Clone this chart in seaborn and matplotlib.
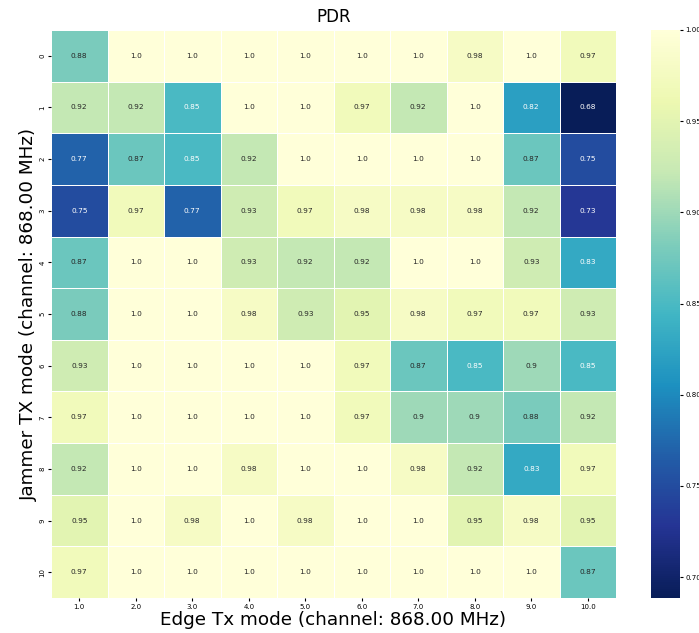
import matplotlib
matplotlib.use('Agg')
import matplotlib.pyplot as plt
import seaborn as sns
import pandas as pd
import numpy as np

edge_modes = [1.0, 2.0, 3.0, 4.0, 5.0, 6.0, 7.0, 8.0, 9.0, 10.0]
jammer_modes = [0, 1, 2, 3, 4, 5, 6, 7, 8, 9, 10]

pdr_0 = [0.88, 1.0, 1.0, 1.0, 1.0, 1.0, 1.0, 0.98, 1.0, 0.97]
pdr_1 = [0.92, 0.92, 0.85, 1.0, 1.0, 0.97, 0.92, 1.0, 0.82, 0.68]
pdr_2 = [0.77, 0.87, 0.85, 0.92, 1.0, 1.0, 1.0, 1.0, 0.87, 0.75]
pdr_3 = [0.75, 0.97, 0.77, 0.93, 0.97, 0.98, 0.98, 0.98, 0.92, 0.73]
pdr_4 = [0.87, 1.0, 1.0, 0.93, 0.92, 0.92, 1.0, 1.0, 0.93, 0.83]
pdr_5 = [0.88, 1.0, 1.0, 0.98, 0.93, 0.95, 0.98, 0.97, 0.97, 0.93]
pdr_6 = [0.93, 1.0, 1.0, 1.0, 1.0, 0.97, 0.87, 0.85, 0.9, 0.85]
pdr_7 = [0.97, 1.0, 1.0, 1.0, 1.0, 0.97, 0.9, 0.9, 0.88, 0.92]
pdr_8 = [0.92, 1.0, 1.0, 0.98, 1.0, 1.0, 0.98, 0.92, 0.83, 0.97]
pdr_9 = [0.95, 1.0, 0.98, 1.0, 0.98, 1.0, 1.0, 0.95, 0.98, 0.95]
pdr_10 = [0.97, 1.0, 1.0, 1.0, 1.0, 1.0, 1.0, 1.0, 1.0, 0.87]

rows = [pdr_0, pdr_1, pdr_2, pdr_3, pdr_4, pdr_5, pdr_6, pdr_7, pdr_8, pdr_9, pdr_10]
df = pd.DataFrame(rows, index=jammer_modes, columns=edge_modes)
labels = df.map(lambda v: str(v))

fig = plt.figure(figsize=(6.99, 6.33), dpi=100)
ax = fig.add_axes([51/699, 35/633, 565/699, 568/633])
cax = fig.add_axes([651/699, 35/633, 29/699, 568/633])

sns.heatmap(df, annot=labels, fmt='', cmap='YlGnBu_r', vmin=0.6885, vmax=1.0,
            linewidths=0.5, linecolor='white', annot_kws={'size': 5.3},
            ax=ax, cbar_ax=cax)

ax.set_title('PDR', fontsize=12)
ax.set_xlabel('Edge Tx mode (channel: 868.00 MHz)', fontsize=13.2, labelpad=1)
ax.set_ylabel('Jammer TX mode (channel: 868.00 MHz)', fontsize=13.2, labelpad=1)
ax.tick_params(axis='both', labelsize=5, length=2.5, pad=1.5)
plt.setp(ax.get_yticklabels(), rotation=90, va='center')
plt.setp(ax.get_xticklabels(), rotation=0)
cax.tick_params(labelsize=5, length=2.5, pad=1.5)
cax.yaxis.set_major_formatter(matplotlib.ticker.FormatStrFormatter('%.2f'))

fig.savefig('out.png', dpi=100)
